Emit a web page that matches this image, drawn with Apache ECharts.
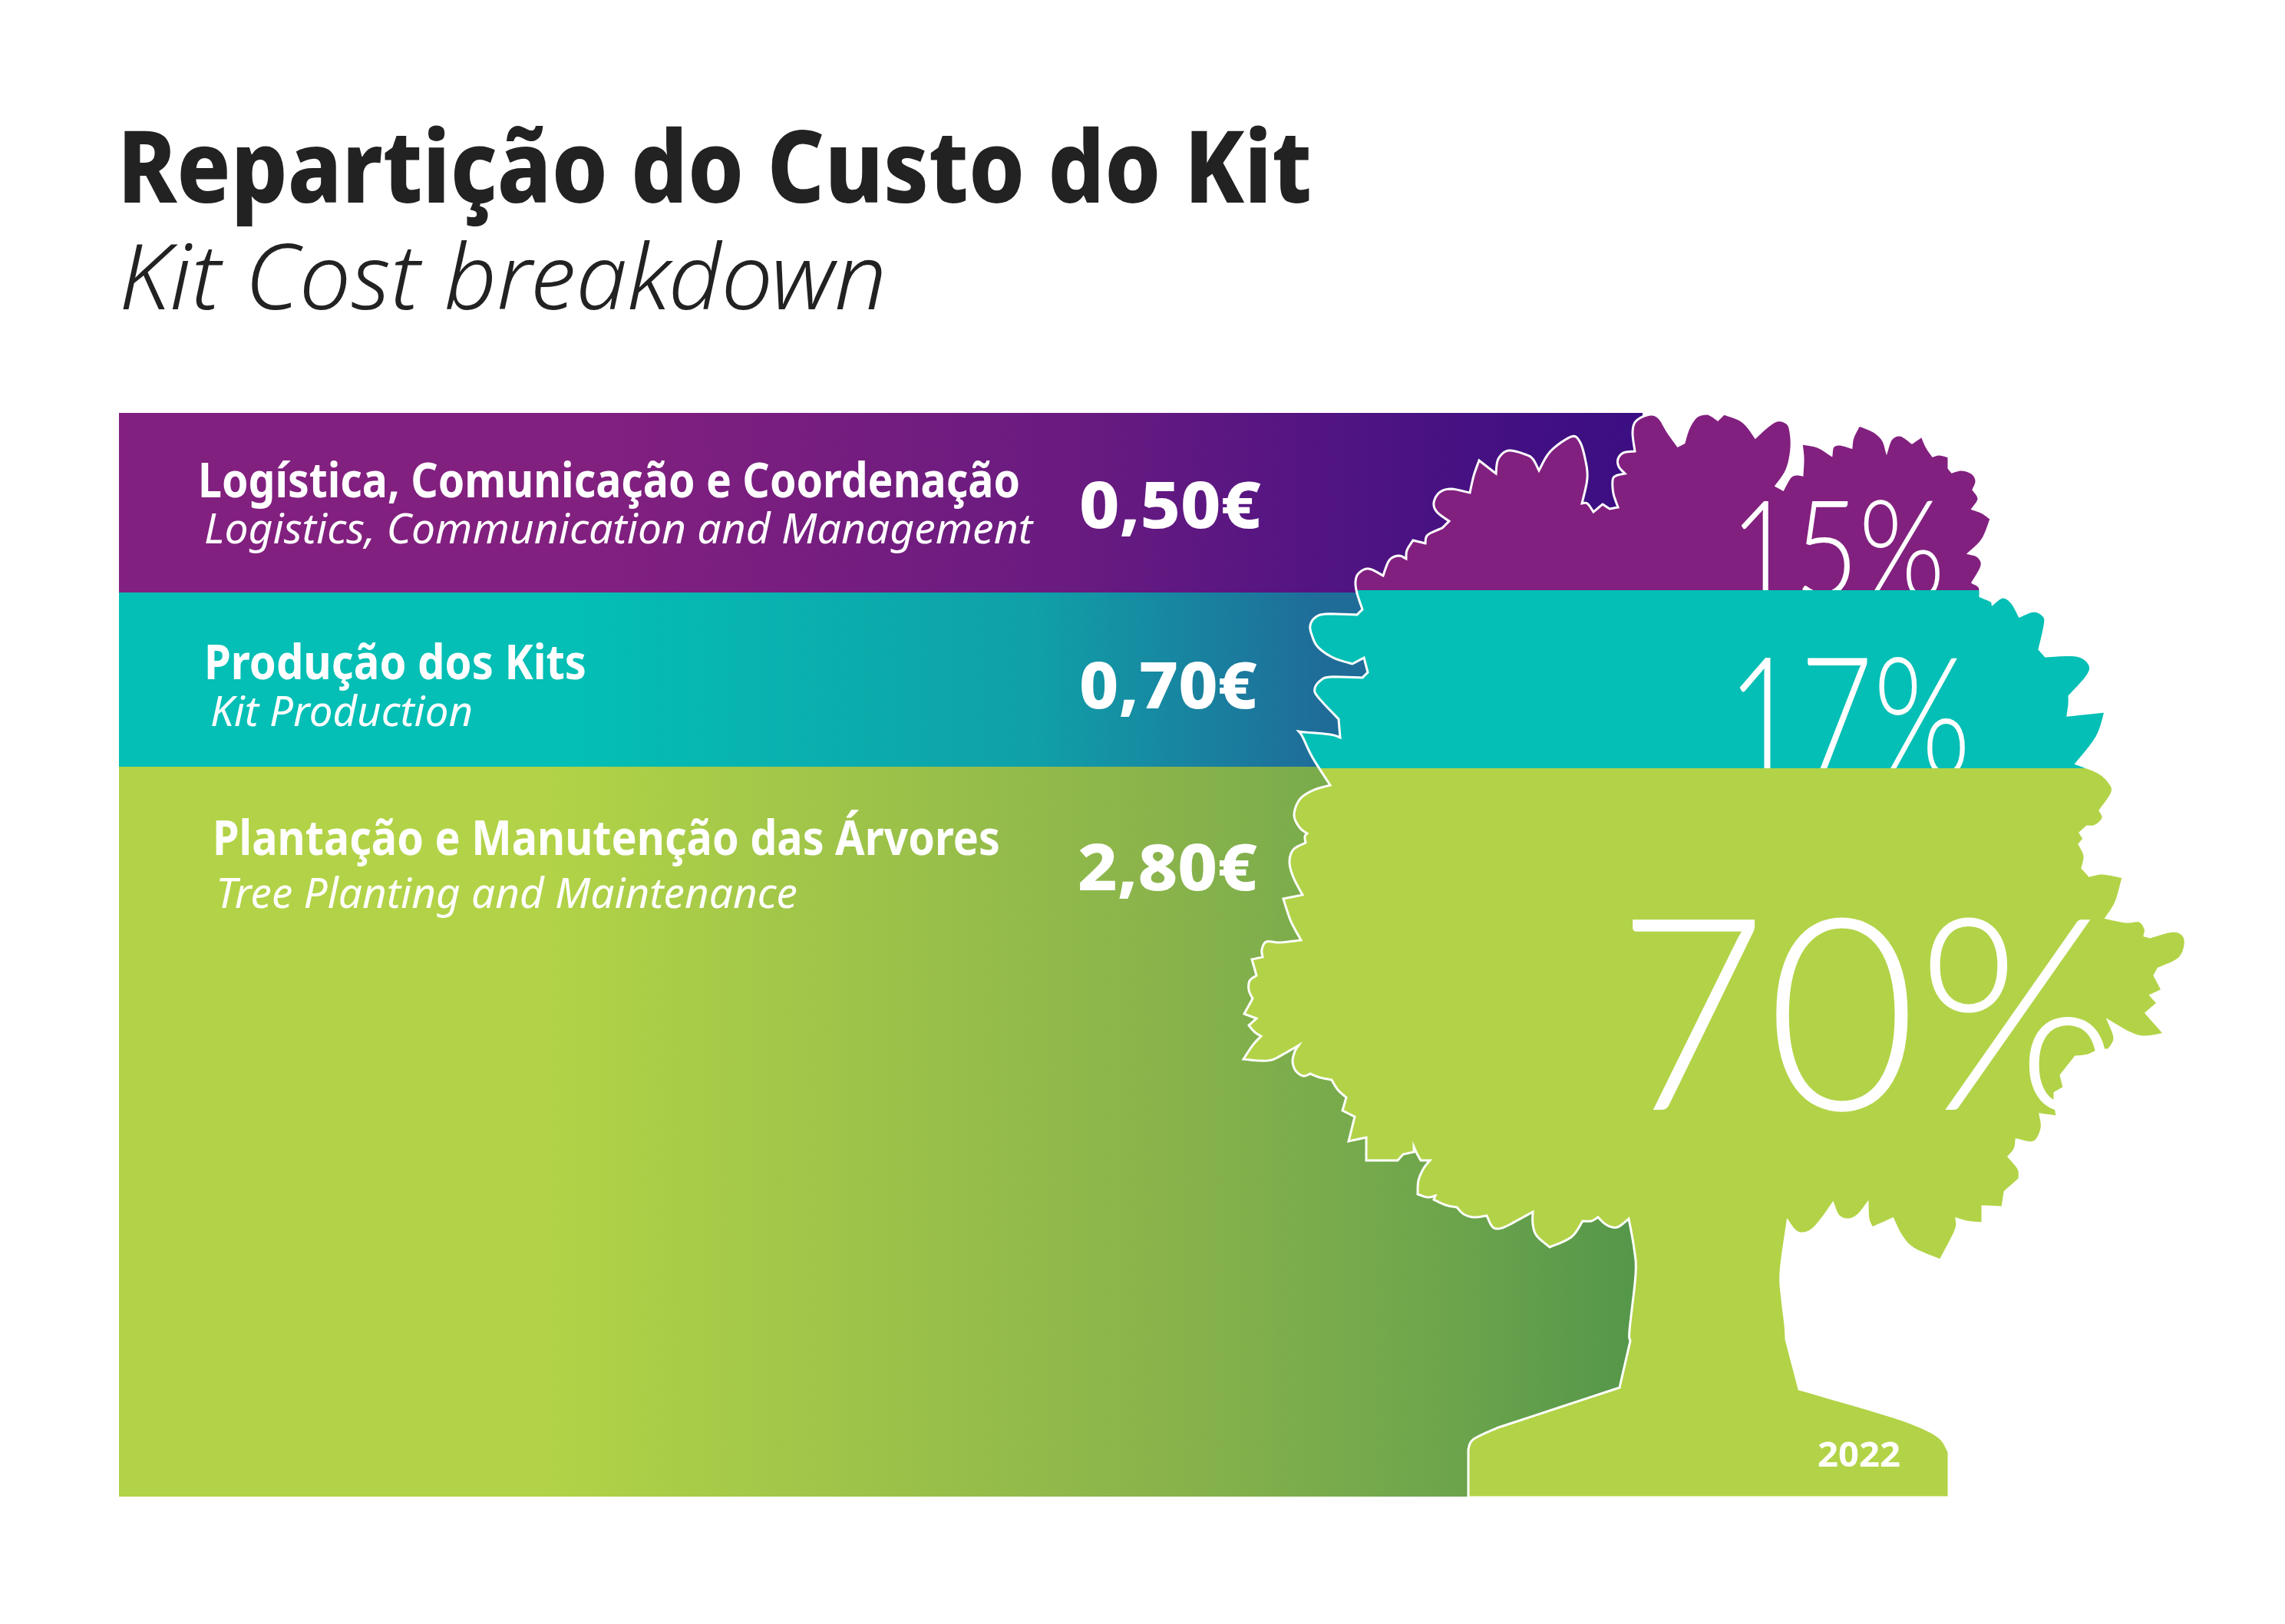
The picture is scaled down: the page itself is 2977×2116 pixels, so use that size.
<!DOCTYPE html>
<html>
<head>
<meta charset="utf-8">
<title>Repartição do Custo do Kit</title>
<script src="https://cdn.jsdelivr.net/npm/echarts@6/dist/echarts.min.js"></script>
<style>
  html, body { margin: 0; padding: 0; background: #fff; }
  #chart { width: 2977px; height: 2116px; }
</style>
</head>
<body>
<div id="chart"></div>
<script>
// chart data, bottom band first so it stacks upwards
const bandNames = ['Plantação e Manutenção das Árvores', 'Produção dos Kits', 'Logística, Comunicação e Coordenação'];
const bandNamesEn = ['Tree Planting and Maintenance', 'Kit Production', 'Logistics, Communication and Management'];
const bandCosts = ['2,80€', '0,70€', '0,50€'];
const bandHeights = [951, 227, 234];
const bandShares = ['70%', '17%', '15%'];
const chartTitle = 'Repartição do Custo do Kit';
const chartSubtitle = 'Kit Cost breakdown';
const yearLabel = '2022';

// tree silhouette: each run is smooth, runs meet at sharp corners
const treeStart = [1913, 1951];
const treeRuns = [
  [[1913, 1888]], [[1920, 1875], [1952, 1860]], [[2110, 1808]],
  [[2124, 1747]], [[2123, 1733], [2131, 1660], [2129, 1627], [2122, 1588]],
  [[2107, 1599], [2093, 1596], [2082, 1586]], [[2073, 1591], [2062, 1591]],
  [[2047, 1612], [2019, 1625]], [[2002, 1610], [1997, 1595], [1997, 1579]],
  [[1977, 1590], [1957, 1600], [1945, 1599], [1937, 1584]],
  [[1920, 1586], [1907, 1582], [1898, 1573]], [[1883, 1570], [1868, 1563]], [[1870, 1558]],
  [[1860, 1560], [1847, 1556]], [[1848, 1538], [1855, 1522], [1863, 1512]], [[1851, 1512]],
  [[1846, 1503], [1842, 1494]], [[1842, 1501]], [[1828, 1504]], [[1821, 1512]], [[1780, 1512]], [[1780, 1482]],
  [[1757, 1487]], [[1765, 1455]], [[1749, 1447]], [[1754, 1430]], [[1743, 1420], [1735, 1407]],
  [[1720, 1404], [1707, 1399]], [[1698, 1402], [1688, 1395], [1684, 1383], [1687, 1370], [1692, 1362]],
  [[1673, 1373], [1657, 1381], [1640, 1382], [1620, 1380]], [[1632, 1362], [1643, 1350]],
  [[1635, 1345], [1627, 1336]], [[1637, 1327]], [[1621, 1321]], [[1632, 1301]],
  [[1627, 1290], [1628, 1278], [1637, 1271]], [[1631, 1250]], [[1645, 1247]],
  [[1644, 1237], [1650, 1227], [1667, 1228], [1695, 1225]], [[1683, 1203], [1677, 1187], [1672, 1171]],
  [[1697, 1166]], [[1685, 1143], [1680, 1123], [1685, 1107], [1701, 1098]], [[1700, 1090], [1703, 1086]],
  [[1693, 1078], [1686, 1062], [1693, 1042], [1710, 1030], [1733, 1023]],
  [[1710, 987], [1697, 960], [1692, 953]], [[1700, 954], [1733, 957], [1746, 961]], [[1744, 937]],
  [[1717, 908], [1713, 897], [1720, 887], [1733, 882], [1775, 883]], [[1782, 876]], [[1777, 857]], [[1762, 865]],
  [[1737, 857], [1717, 843], [1709, 827], [1707, 815], [1713, 805], [1727, 800], [1768, 801]], [[1775, 794]],
  [[1768, 773], [1766, 758], [1770, 747], [1783, 741], [1802, 750]], [[1810, 730], [1822, 724], [1832, 728]],
  [[1833, 717], [1841, 704]], [[1857, 708]], [[1860, 697], [1879, 688]], [[1888, 679]],
  [[1872, 667], [1868, 655], [1875, 642], [1890, 637], [1915, 642]], [[1920, 620], [1927, 600]], [[1949, 617]],
  [[1952, 598], [1965, 587], [1987, 592], [1997, 598], [2005, 613]],
  [[2020, 588], [2047, 569], [2058, 575], [2065, 597], [2068, 623], [2061, 656]], [[2068, 656], [2076, 667]],
  [[2088, 657]], [[2097, 663]], [[2108, 661]], [[2102, 643], [2101, 626], [2105, 620], [2117, 617]],
  [[2109, 608], [2108, 598], [2115, 590], [2130, 588]],
  [[2127, 563], [2132, 548], [2150, 540], [2162, 545], [2173, 563], [2186, 581]], [[2194, 577]],
  [[2200, 558], [2210, 543], [2223, 539], [2231, 542], [2238, 547]], [[2246, 539]],
  [[2267, 547], [2278, 557], [2287, 570]],
  [[2301, 557], [2315, 548], [2326, 550], [2332, 558], [2334, 583], [2328, 612], [2314, 633]], [[2323, 638]],
  [[2332, 622], [2340, 618], [2348, 619]], [[2349, 597], [2347, 578]], [[2368, 582], [2386, 593]],
  [[2388, 582], [2397, 579], [2412, 583]], [[2414, 570], [2422, 554]], [[2441, 562], [2453, 573], [2458, 588]],
  [[2464, 572], [2476, 567], [2491, 577]], [[2504, 568]], [[2510, 582], [2518, 594]], [[2527, 592], [2539, 595]],
  [[2539, 610]], [[2543, 615]], [[2556, 612], [2570, 617], [2575, 627], [2571, 638]], [[2578, 650], [2570, 663]],
  [[2583, 668], [2594, 676]], [[2583, 703], [2565, 721]], [[2577, 725], [2582, 737], [2570, 759]],
  [[2579, 765], [2580, 777]], [[2594, 783], [2596, 787]], [[2609, 778], [2621, 785], [2631, 803]],
  [[2650, 796], [2663, 803], [2664, 815], [2657, 846]], [[2665, 855]],
  [[2705, 854], [2722, 865], [2720, 880], [2696, 907]], [[2696, 917], [2694, 932]], [[2743, 927]],
  [[2732, 960], [2705, 995]], [[2733, 1006], [2747, 1018], [2752, 1032], [2736, 1056]],
  [[2740, 1066], [2730, 1076], [2719, 1077]], [[2710, 1085]], [[2715, 1093]], [[2709, 1100]],
  [[2716, 1115], [2713, 1131]], [[2722, 1141]], [[2740, 1138], [2766, 1143]], [[2757, 1175], [2744, 1196]],
  [[2770, 1201], [2787, 1200], [2795, 1210], [2794, 1219]], [[2801, 1221]],
  [[2833, 1213], [2847, 1224], [2840, 1248], [2812, 1262]], [[2807, 1271]], [[2817, 1290]], [[2802, 1297]],
  [[2811, 1307]], [[2796, 1320]], [[2820, 1347]], [[2793, 1351], [2773, 1345], [2747, 1330]],
  [[2755, 1353], [2747, 1368]], [[2734, 1369], [2720, 1375], [2704, 1377]], [[2685, 1401]], [[2689, 1417]],
  [[2677, 1424]], [[2677, 1435]], [[2680, 1455]], [[2658, 1452]], [[2660, 1470], [2650, 1488], [2627, 1485]],
  [[2625, 1497], [2617, 1507]], [[2630, 1523], [2631, 1536]], [[2612, 1553]], [[2609, 1573]], [[2583, 1572]],
  [[2583, 1594]], [[2563, 1592], [2549, 1588]], [[2548, 1603], [2528, 1642]],
  [[2493, 1627], [2477, 1610], [2466, 1588]], [[2439, 1600]], [[2434, 1588], [2433, 1568]],
  [[2420, 1584], [2407, 1589], [2395, 1584], [2388, 1568]],
  [[2373, 1589], [2360, 1603], [2347, 1607], [2338, 1603], [2329, 1591]],
  [[2320, 1657], [2322, 1693], [2326, 1727], [2327, 1745]], [[2344, 1810]],
  [[2447, 1840], [2497, 1857], [2527, 1873], [2539, 1892]], [[2539, 1951]]
];

// colours per band, bottom first: each fade is a list of [offset, colour]
const bandColors = ['#B2D347', '#03BFB5', '#82207F'];
const bandFades = [
  [[0, '#B2D347'], [0.28, '#B2D347'], [0.68, '#8AB44B'], [0.86, '#6FA64C'], [1, '#54964A']],
  [[0, '#03BFB5'], [0.3, '#03BFB5'], [0.6, '#10A0A8'], [0.79, '#1F6C99'], [1, '#1F6C99']],
  [[0, '#82207F'], [0.3, '#82207F'], [0.62, '#6A1B80'], [0.85, '#4A1283'], [1, '#3A0E82']]
];

// text layout in page pixels: x, baseline, font size, target width
const textFont = '"Noto Sans", sans-serif';
const lightFont = 'Lato, sans-serif';
const titleLayout = [153, 264, 130, 1556];
const subtitleLayout = [155, 403, 117, 1000];
const nameLayout = [[277, 1114, 62, 1026], [266, 885, 62, 498], [258, 648, 62, 1071]];
const nameEnLayout = [[281, 1183, 55, 758], [274, 946, 55, 342], [266, 708, 55, 1079]];
const costLayout = [[1404, 1160, 84, 234], [1406, 923, 84, 232], [1406, 688, 84, 237]];
const shareLayout = [[2106, 1446, 350, 655], [2250, 1010, 216, 318], [2254, 778, 175, 280]];
const shareClip = [[999, 1960], [769, 1001], [500, 769]];
const yearLayout = [2368, 1911, 45, 108];

const measure = document.createElement('canvas').getContext('2d');

// real text squeezed to the picture's width, anchored on its baseline
function textEl(api, text, layout, font, weight, italic, color) {
  const [x, base, size, width] = layout;
  const fontStr = (italic ? 'italic ' : '') + weight + ' ' + size + 'px ' + font;
  measure.font = fontStr;
  measure.textBaseline = 'alphabetic';
  const natural = measure.measureText(text).width;
  measure.textBaseline = 'middle';
  const drop = measure.measureText('H').actualBoundingBoxDescent;
  const pos = api.coord([x, base]);
  return {
    type: 'text',
    x: pos[0],
    y: pos[1] - drop,
    scaleX: width / natural,
    style: { text: text, font: fontStr, fill: color, align: 'left', verticalAlign: 'middle' }
  };
}

function smoothRun(from, run) {
  const pts = [from].concat(run);
  const out = [];
  for (let i = 0; i < pts.length - 1; i++) {
    const p0 = pts[Math.max(i - 1, 0)], p1 = pts[i], p2 = pts[i + 1], p3 = pts[Math.min(i + 2, pts.length - 1)];
    for (let k = 1; k <= 6; k++) {
      const t = k / 6, t2 = t * t, t3 = t2 * t;
      out.push([0, 1].map(d => 0.5 * (2 * p1[d] + (p2[d] - p0[d]) * t +
        (2 * p0[d] - 5 * p1[d] + 4 * p2[d] - p3[d]) * t2 +
        (3 * p1[d] - p0[d] - 3 * p2[d] + p3[d]) * t3)));
    }
  }
  return out;
}

let treeOutline = [treeStart];
treeRuns.forEach(run => {
  treeOutline = treeOutline.concat(smoothRun(treeOutline[treeOutline.length - 1], run));
});

const chart = echarts.init(document.getElementById('chart'), null, { renderer: 'canvas' });

const option = {
  animation: false,
  backgroundColor: '#fff',
  grid: [
    { left: 155, top: 538, width: 1985, height: 1412, containLabel: false },
    { left: 0, top: 0, right: 0, bottom: 0 }
  ],
  xAxis: [
    { type: 'category', gridIndex: 0, data: ['Kit'], show: false },
    { type: 'value', gridIndex: 1, min: 0, max: 2977, show: false }
  ],
  yAxis: [
    { type: 'value', gridIndex: 0, min: 0, max: 1412, show: false },
    { type: 'value', gridIndex: 1, min: 0, max: 2116, inverse: true, show: false }
  ],
  series: bandHeights.map((h, i) => ({
    type: 'bar',
    stack: 'cost',
    name: bandNames[i],
    barWidth: '100%',
    data: [h],
    itemStyle: {
      color: new echarts.graphic.LinearGradient(0, 0, 1, 0,
        bandFades[i].map(s => ({ offset: s[0], color: s[1] })))
    }
  })).concat([
    {
      // the tree over the bands, its fill cut in three flat colours
      type: 'custom',
      xAxisIndex: 1,
      yAxisIndex: 1,
      clip: false,
      z: 5,
      data: [[0, 0]],
      renderItem: function (params, api) {
        const a = 769 / 2116, b = 1001 / 2116;
        return {
          type: 'polygon',
          shape: { points: treeOutline.map(p => api.coord(p)) },
          style: {
            fill: new echarts.graphic.LinearGradient(0, 0, 0, 2116, [
              { offset: 0, color: bandColors[2] },
              { offset: a, color: bandColors[2] },
              { offset: a, color: bandColors[1] },
              { offset: b, color: bandColors[1] },
              { offset: b, color: bandColors[0] },
              { offset: 1, color: bandColors[0] }
            ], true),
            stroke: '#fff',
            lineWidth: 3,
            lineJoin: 'miter'
          }
        };
      }
    },
    {
      // big shares, cut off by the band below them
      type: 'custom',
      xAxisIndex: 1,
      yAxisIndex: 1,
      clip: false,
      z: 6,
      data: bandShares.map((s, i) => [shareLayout[i][0], shareLayout[i][1]]),
      renderItem: function (params, api) {
        const i = params.dataIndex;
        return {
          type: 'group',
          clipPath: {
            type: 'rect',
            shape: { x: 0, y: shareClip[i][0], width: 2977, height: shareClip[i][1] - shareClip[i][0] }
          },
          children: [textEl(api, bandShares[i], shareLayout[i], lightFont, 300, false, '#fff')]
        };
      }
    },
    {
      // titles, band names and costs
      type: 'custom',
      xAxisIndex: 1,
      yAxisIndex: 1,
      clip: false,
      z: 7,
      data: [[0, 0]],
      renderItem: function (params, api) {
        const kids = [
          textEl(api, chartTitle, titleLayout, textFont, 800, false, '#222222'),
          textEl(api, chartSubtitle, subtitleLayout, textFont, 300, true, '#222222'),
          textEl(api, yearLabel, yearLayout, textFont, 700, false, '#fff')
        ];
        bandNames.forEach((name, i) => {
          kids.push(textEl(api, name, nameLayout[i], textFont, 700, false, '#fff'));
          kids.push(textEl(api, bandNamesEn[i], nameEnLayout[i], textFont, 400, true, '#fff'));
          kids.push(textEl(api, bandCosts[i], costLayout[i], textFont, 800, false, '#fff'));
        });
        return { type: 'group', children: kids };
      }
    }
  ])
};

chart.setOption(option);
</script>
</body>
</html>
